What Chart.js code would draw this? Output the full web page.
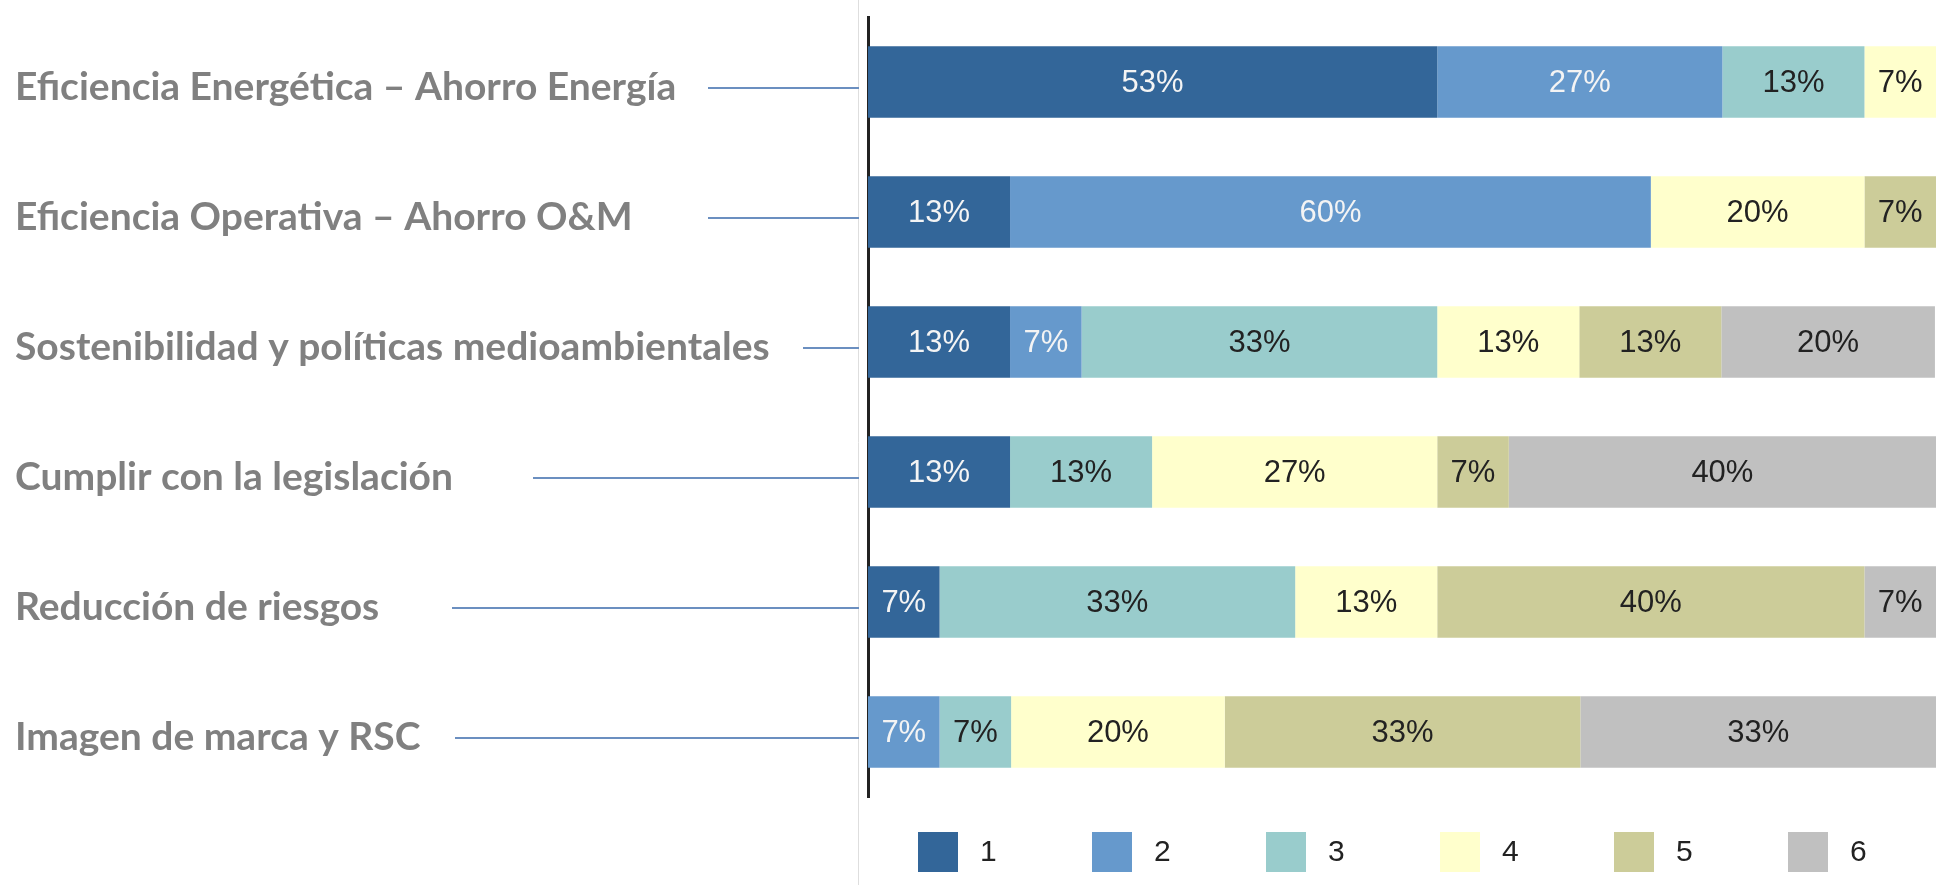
<!DOCTYPE html>
<html>
<head>
<meta charset="utf-8">
<script src="https://cdn.jsdelivr.net/npm/chart.js@4.4.1/dist/chart.umd.min.js"></script>
<style>
  html, body { margin: 0; padding: 0; background: #fff; }
</style>
</head>
<body>
<canvas id="rankChart" width="1952" height="885"></canvas>
<script>
// motivos, one bar each
const motivos = [
  "Eficiencia Energética – Ahorro Energía",
  "Eficiencia Operativa – Ahorro O&M",
  "Sostenibilidad y políticas medioambientales",
  "Cumplir con la legislación",
  "Reducción de riesgos",
  "Imagen de marca y RSC",
];
const rangos = ["1", "2", "3", "4", "5", "6"];

// % of answers that put the motivo in position 1..6 (null = no segment)
const rango1 = [53.3, 13.3, 13.3, 13.3, 6.7, null];
const rango2 = [26.7, 60, 6.7, null, null, 6.7];
const rango3 = [13.3, null, 33.3, 13.3, 33.3, 6.7];
const rango4 = [6.7, 20, 13.3, 26.7, 13.3, 20];
const rango5 = [null, 6.7, 13.3, 6.7, 40, 33.3];
const rango6 = [null, null, 20, 40, 6.7, 33.3];

const colores = ["#336699", "#6699cc", "#99cccc", "#ffffcc", "#cccc99", "#c0c0c0"];
const colorTexto = ["#f4f4f4", "#f4f4f4", "#222222", "#222222", "#222222", "#222222"];
// the blue connector lines are hand drawn in the original, they start at these x (px)
const inicioConector = [708, 708, 803, 533, 452, 455];

// lineHeight kept small so the big labels don't push the plot area down
const fuenteMotivos = { family: "Lato, 'Open Sans', sans-serif", size: 39, weight: "bold", lineHeight: 0.8 };

const seriesRango = [rango1, rango2, rango3, rango4, rango5, rango6];
const datasets = seriesRango.map((serie, i) => ({
  label: rangos[i],
  data: serie,
  backgroundColor: colores[i],
  borderWidth: 0,
}));

//grey edge + blue lines from each motivo to the axis
const conectoresPlugin = {
  id: "conectores",
  beforeDatasetsDraw(chart) {
    const { ctx, chartArea } = chart;
    const yScale = chart.scales.y;
    ctx.save();
    ctx.strokeStyle = "#dedede";
    ctx.lineWidth = 1;
    ctx.beginPath();
    ctx.moveTo(chartArea.left - 9.5, 0);
    ctx.lineTo(chartArea.left - 9.5, chart.height);
    ctx.stroke();

    ctx.font = `${fuenteMotivos.weight} ${fuenteMotivos.size}px ${fuenteMotivos.family}`;
    ctx.strokeStyle = "#6b8fc0";
    ctx.lineWidth = 2;
    motivos.forEach((m, i) => {
      const finTexto = yScale.left + ctx.measureText(m).width;
      const x0 = Math.max(finTexto + 10, inicioConector[i]);
      const y = Math.round(yScale.getPixelForValue(i)) + 6;
      ctx.beginPath();
      ctx.moveTo(x0, y);
      ctx.lineTo(chartArea.left - 9, y);
      ctx.stroke();
    });
    ctx.restore();
  },
};

//percent written in the middle of every segment
const etiquetasPlugin = {
  id: "etiquetas",
  afterDatasetsDraw(chart) {
    const ctx = chart.ctx;
    ctx.save();
    ctx.font = "31px 'Liberation Sans', Arial, sans-serif";
    ctx.textAlign = "center";
    ctx.textBaseline = "middle";
    chart.data.datasets.forEach((ds, i) => {
      const meta = chart.getDatasetMeta(i);
      meta.data.forEach((bar, j) => {
        const v = ds.data[j];
        if (v == null) return;
        ctx.fillStyle = colorTexto[i];
        ctx.fillText(Math.round(v) + "%", (bar.x + bar.base) / 2, bar.y + 1);
      });
    });
    ctx.restore();
  },
};

//legend under the bars, spaced like the original
const leyendaPlugin = {
  id: "leyenda",
  afterDraw(chart) {
    const { ctx, chartArea } = chart;
    ctx.save();
    ctx.font = "30px 'Liberation Sans', Arial, sans-serif";
    ctx.textAlign = "left";
    ctx.textBaseline = "middle";
    const yc = chartArea.bottom + 55;
    chart.data.datasets.forEach((ds, i) => {
      const x = chartArea.left + 50 + i * 174;
      ctx.fillStyle = ds.backgroundColor;
      ctx.fillRect(x, yc - 20, 40, 40);
      ctx.fillStyle = "#222222";
      ctx.fillText(ds.label, x + 62, yc + 1);
    });
    ctx.restore();
  },
};

const rankChart = new Chart(document.getElementById("rankChart"), {
  type: "bar",
  data: { labels: motivos, datasets: datasets },
  plugins: [conectoresPlugin, etiquetasPlugin, leyendaPlugin],
  options: {
    indexAxis: "y",
    responsive: false,
    animation: false,
    layout: { padding: { left: 15, right: 16, top: 17, bottom: 88 } },
    datasets: { bar: { categoryPercentage: 1, barPercentage: 0.55 } },
    scales: {
      x: { stacked: true, min: 0, max: 100, display: false },
      y: {
        stacked: true,
        grid: { display: false, drawTicks: false },
        border: { display: true, color: "#222222", width: 3 },
        ticks: {
          crossAlign: "far",
          color: "#808080",
          font: fuenteMotivos,
          padding: 0,
          labelOffset: 5,
        },
        afterFit: (scale) => {
          scale.width = 853;
        },
      },
    },
    plugins: {
      legend: { display: false },
      tooltip: { enabled: false },
    },
  },
});
</script>
</body>
</html>
